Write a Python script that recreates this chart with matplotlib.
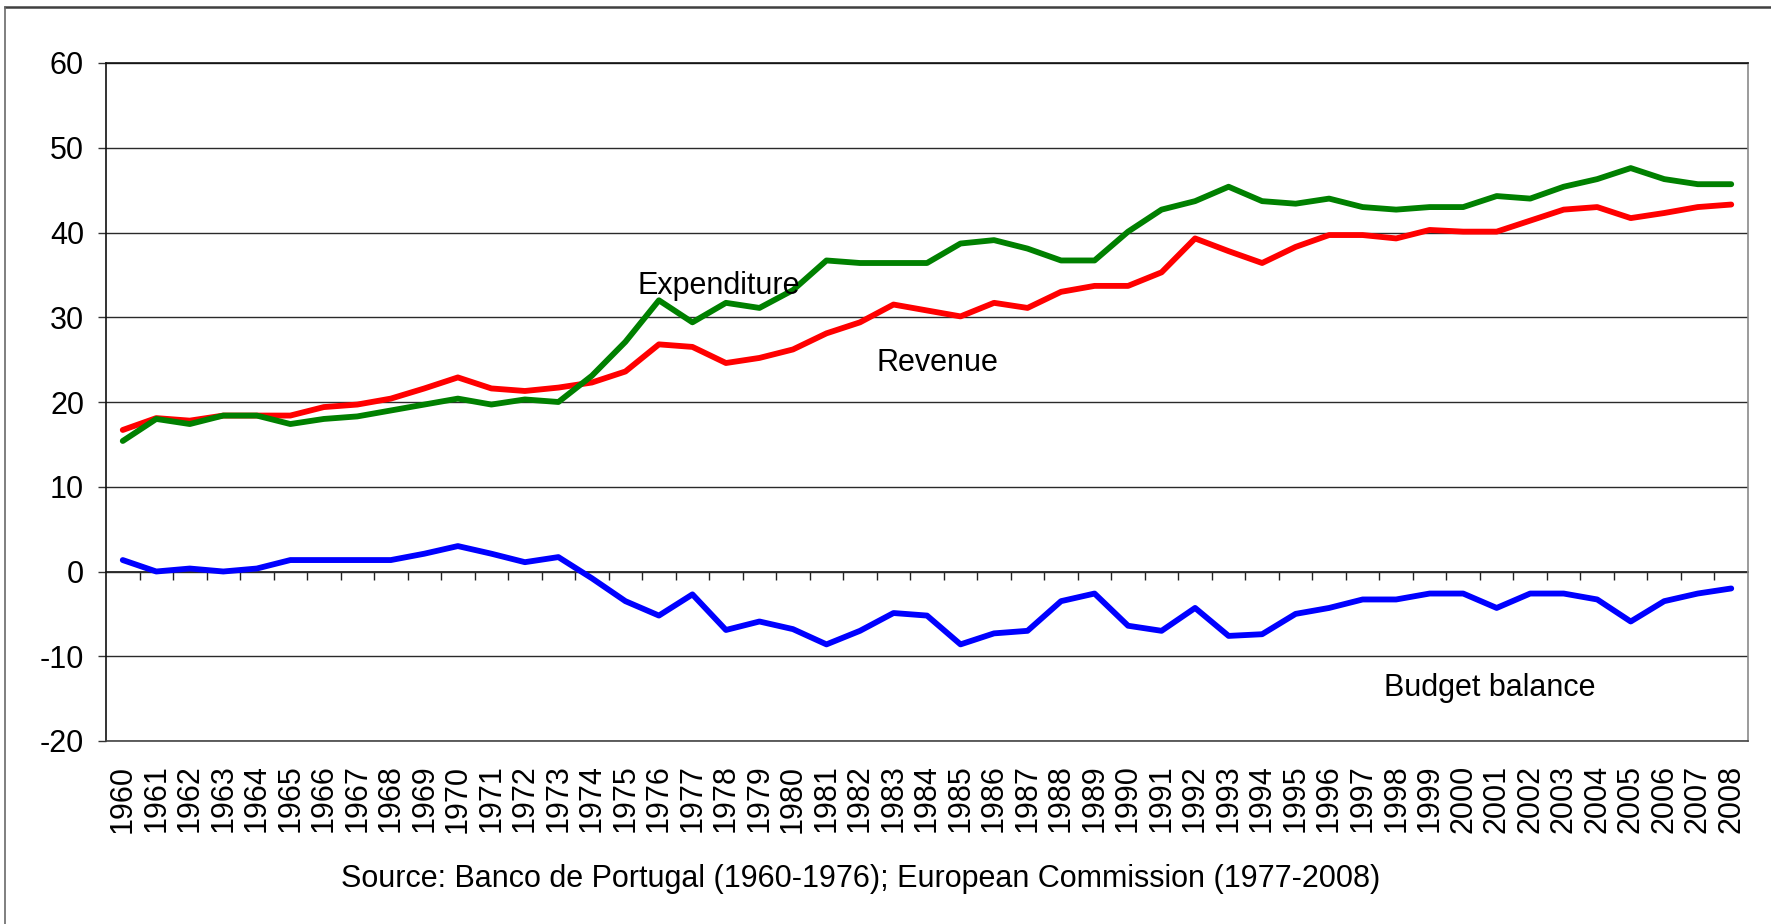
import matplotlib
matplotlib.use("Agg")
import matplotlib.pyplot as plt
from matplotlib.lines import Line2D

years = list(range(1960, 2009))

revenue = [16.7, 18.1, 17.8, 18.4, 18.4, 18.4, 19.4, 19.7, 20.4, 21.6,
           22.9, 21.6, 21.3, 21.7, 22.3, 23.6, 26.8, 26.5, 24.6, 25.2,
           26.2, 28.1, 29.4, 31.5, 30.8, 30.1, 31.7, 31.1, 33.0, 33.7,
           33.7, 35.3, 39.3, 37.8, 36.4, 38.3, 39.7, 39.7, 39.3, 40.3,
           40.1, 40.1, 41.4, 42.7, 43.0, 41.7, 42.3, 43.0, 43.3]

expenditure = [15.4, 18.0, 17.4, 18.4, 18.4, 17.4, 18.0, 18.3, 19.0, 19.7,
               20.4, 19.7, 20.3, 20.0, 23.1, 27.1, 32.0, 29.4, 31.7, 31.1,
               33.2, 36.7, 36.4, 36.4, 36.4, 38.7, 39.1, 38.1, 36.7, 36.7,
               40.1, 42.7, 43.7, 45.4, 43.7, 43.4, 44.0, 43.0, 42.7, 43.0,
               43.0, 44.3, 44.0, 45.4, 46.3, 47.6, 46.3, 45.7, 45.7]

budget_balance = [1.35, 0.0, 0.35, 0.0, 0.35, 1.35, 1.35, 1.35, 1.35, 2.1,
                  3.0, 2.1, 1.1, 1.7, -0.8, -3.5, -5.2, -2.7, -6.9, -5.9,
                  -6.8, -8.6, -7.0, -4.9, -5.2, -8.6, -7.3, -7.0, -3.5, -2.6,
                  -6.4, -7.0, -4.3, -7.6, -7.4, -5.0, -4.3, -3.3, -3.3, -2.6,
                  -2.6, -4.3, -2.6, -2.6, -3.3, -5.9, -3.5, -2.6, -2.0]

year_labels = [str(y) for y in years]
y_ticks = [-20, -10, 0, 10, 20, 30, 40, 50, 60]
source_text = "Source: Banco de Portugal (1960-1976); European Commission (1977-2008)"

FONT = "Liberation Sans"
FS = 22
LW = 4.2
plt.rcParams['font.family'] = [FONT, 'DejaVu Sans']

W, H = 1771, 924
fig = plt.figure(figsize=(W / 100, H / 100), dpi=100)
fig.patch.set_facecolor("white")

ax = fig.add_axes([106 / W, 1 - 741 / H, (1748 - 106) / W, (741 - 63) / H])

x = list(range(len(years)))
ax.plot(x, revenue, color="#FF0000", lw=LW, solid_joinstyle="round", solid_capstyle="round", zorder=3)
ax.plot(x, expenditure, color="#008000", lw=LW, solid_joinstyle="round", solid_capstyle="round", zorder=4)
ax.plot(x, budget_balance, color="#0000FF", lw=LW, solid_joinstyle="round", solid_capstyle="round", zorder=3)

ymin, ymax = y_ticks[0], y_ticks[-1]
ax.set_xlim(-0.5, len(years) - 0.5)
ax.set_ylim(ymin, ymax)

ax.set_yticks(y_ticks)
ax.set_yticklabels([str(v) for v in y_ticks], fontsize=FS)
ax.tick_params(axis="y", direction="out", length=5.8, width=1, color="#333333", pad=10)
ax.yaxis.grid(True, color="#2a2a2a", lw=1.0)
ax.set_axisbelow(True)

ax.set_xticks(x)
ax.set_xticklabels(year_labels, rotation=90, fontsize=FS, va="top", ha="center")
ax.tick_params(axis="x", length=0, pad=17)

ax.spines["top"].set_color("#111111")
ax.spines["left"].set_color("#111111")
ax.spines["right"].set_color("#8a8a8a")
ax.spines["bottom"].set_color("#444444")
for s in ax.spines.values():
    s.set_linewidth(1.2)

# category axis crossing at zero, ticks between categories
sec = ax.secondary_xaxis((0 - ymin) / (ymax - ymin))
sec.set_xticks([i - 0.5 for i in x[1:]])
sec.set_xticklabels([])
sec.tick_params(axis="x", direction="out", length=5.8, width=1, color="#222222")
sec.spines["bottom"].set_color("#111111")
sec.spines["bottom"].set_linewidth(1.2)

ax.text(15.35, 32.8, "Expenditure", fontsize=FS, ha="left", va="baseline", zorder=5)
ax.text(22.48, 23.64, "Revenue", fontsize=FS, ha="left", va="baseline", zorder=5)
ax.text(37.64, -14.68, "Budget balance", fontsize=FS, ha="left", va="baseline", zorder=5)

fig.text(861 / W, 1 - 879 / H, source_text, fontsize=FS, ha="center", va="center")

# outer chart border (top and left visible)
fig.add_artist(Line2D([5 / W, 1.0], [1 - 7 / H, 1 - 7 / H], transform=fig.transFigure,
                      color="#404040", lw=1.8))
fig.add_artist(Line2D([5 / W, 5 / W], [1 - 7 / H, 0.0], transform=fig.transFigure,
                      color="#6a6a6a", lw=1.2))

fig.savefig("out.png", dpi=100, facecolor="white")
